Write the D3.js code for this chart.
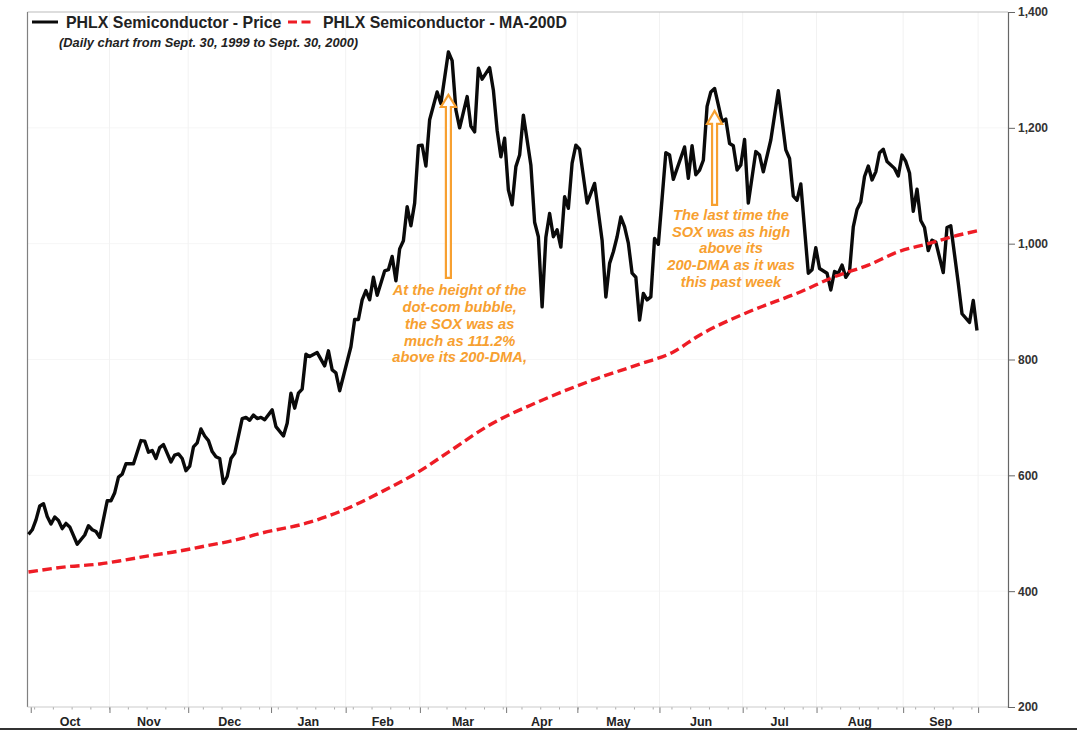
<!DOCTYPE html>
<html>
<head>
<meta charset="utf-8">
<script src="https://d3js.org/d3.v7.min.js"></script>
<style>
html, body { margin: 0; padding: 0; background: #fff; overflow: hidden; }
text { font-family: "Liberation Sans", Arial, sans-serif; font-weight: bold; }
</style>
</head>
<body>
<svg class="chart" width="1077" height="730"></svg>
<script>
// trading days since Sept. 30, 1999
var priceDays = [0,1,2,3,4,5,6,7,8,9,10,11,13,15,16,17,18,19,21,22,23,24,25,26,28,30,31,32,33,34,35,36,38,39,40,41,42,43,44,45,46,47,48,49,50,51,52,53,54,55,57,58,59,60,61,62,63,65,66,68,69,70,71,72,73,74,75,77,79,80,81,82,83,86,87,88,89,90,91,92,93,95,96,97,98,99,100,101,102,103,104,105,106,107,109,110,112,113,114,115,117,118,119,120,121,123,124,125,126,127,128,129,130,131,132,134,135,136,137,138,139,140,141,142,143,144,145,146,147,149,151,153,154,155,156,157,158,159,160,161,162,163,164,165,166,167,168,170,171,172,175,176,177,178,179,180,181,182,183,185,186,187,188,189,190,191,192,194,195,196,198,200,202,203,204,205,206,208,209,210,211,213,214,215,216,217,218,219,220,221,222,223,224,225,226,227,228,229,231,232,233,234,235,236,237,238,239,240,241,242,244,245,246,248,249,251,252,253];
var priceValues = [498,506,523,547,551,529,516,528,522,508,517,511,481,497,513,506,503,493,556,556,570,597,602,620,620,660,659,640,643,629,648,653,623,635,637,629,608,616,649,656,680,668,660,641,632,629,586,598,629,638,698,700,695,704,698,700,696,713,684,668,690,742,716,742,749,809,805,812,789,815,782,777,746,822,869,869,903,919,903,942,911,953,955,978,936,991,1005,1064,1031,1070,1169,1170,1134,1214,1262,1242,1331,1316,1231,1200,1254,1203,1193,1303,1284,1304,1265,1196,1150,1182,1093,1067,1133,1153,1222,1136,1037,1012,891,1011,1052,1012,1024,994,1081,1061,1139,1170,1163,1070,1104,1006,908,966,986,1012,1046,1029,1001,949,942,868,914,903,908,1009,999,1157,1153,1111,1167,1113,1169,1119,1127,1144,1237,1262,1268,1211,1215,1173,1169,1127,1136,1180,1070,1159,1153,1124,1179,1264,1162,1147,1082,1075,1103,949,955,993,957,949,920,952,949,963,942,952,1029,1059,1072,1116,1134,1110,1124,1157,1163,1142,1130,1117,1153,1142,1122,1056,1094,1040,1028,988,1006,1003,950,1028,1031,932,879,864,902,850];

var maDays = [0,10,19,25,32,40,48,55,62,75,84,94,104,112,123,136,152,163,172,179,192,206,215,224,232,240,247,253];
var maValues = [433,442,447,453,461,469,479,488,500,519,540,571,606,640,687,727,768,792,813,842,882,917,943,963,986,1000,1013,1022];

var monthNames = ["Oct","Nov","Dec","Jan","Feb","Mar","Apr","May","Jun","Jul","Aug","Sep"];
var monthStarts = [0.6,21.6,42.6,64.7,84.6,104.4,127.4,146.4,168.3,190.5,210.2,233.3,253.3];
var yTicks = [200,400,600,800,1000,1200,1400];

var legendLabels = ["PHLX Semiconductor - Price", "PHLX Semiconductor - MA-200D"];
var subtitle = "(Daily chart from Sept. 30, 1999 to Sept. 30, 2000)";
var note1 = ["At the height of the","dot-com bubble,","the SOX was as","much as 111.2%","above its 200-DMA,"];
var note2 = ["The last time the","SOX was as high","above its","200-DMA as it was","this past week"];

var svg = d3.select(".chart");
var plot = {left: 27.5, top: 12, right: 1008, bottom: 707};

var xScale = d3.scaleLinear().domain([0, 253]).range([28.5, 977]);
var yScale = d3.scaleLinear().domain([200, 1400]).range([plot.bottom, plot.top]);

// grid
svg.append("g").selectAll("line")
    .data(yTicks.slice(1, -1))
    .enter().append("line")
    .attr("x1", plot.left).attr("x2", plot.right)
    .attr("y1", function (d) { return yScale(d); })
    .attr("y2", function (d) { return yScale(d); })
    .attr("stroke", "#f6f6f6");

svg.append("g").selectAll("line")
    .data(monthStarts.slice(1))
    .enter().append("line")
    .attr("x1", function (d) { return xScale(d); })
    .attr("x2", function (d) { return xScale(d); })
    .attr("y1", plot.top).attr("y2", plot.bottom)
    .attr("stroke", "#f2f2f2");

// frame
svg.append("line").attr("x1", plot.left).attr("x2", plot.right).attr("y1", plot.top).attr("y2", plot.top)
    .attr("stroke", "#bbb").attr("stroke-width", 1);
svg.append("line").attr("x1", plot.left).attr("x2", plot.left).attr("y1", plot.top).attr("y2", plot.bottom)
    .attr("stroke", "#808080").attr("stroke-width", 1.2);
svg.append("rect").attr("x", 0).attr("y", 728).attr("width", 1077).attr("height", 2).attr("fill", "#333");

// x axis: weekly minor ticks, monthly major ticks
var xMinor = d3.axisBottom(xScale).tickValues(d3.range(1.5, 253, 5)).tickSize(2.5).tickFormat("");
var xMinorG = svg.append("g").attr("transform", "translate(0," + plot.bottom + ")").call(xMinor);
xMinorG.selectAll(".tick line").attr("stroke", "#aaa");
xMinorG.select(".domain").remove();

var xMajor = d3.axisBottom(xScale).tickValues(monthStarts).tickSize(6).tickFormat("");
var xMajorG = svg.append("g").attr("transform", "translate(0," + plot.bottom + ")").call(xMajor);
xMajorG.selectAll(".tick line").attr("stroke", "#777");
xMajorG.select(".domain").remove();

svg.append("line").attr("x1", plot.left).attr("x2", plot.right).attr("y1", plot.bottom).attr("y2", plot.bottom)
    .attr("stroke", "#ccc").attr("stroke-width", 1.2);

svg.append("g").selectAll("text")
    .data(monthNames)
    .enter().append("text")
    .attr("x", function (d, i) { return xScale((monthStarts[i] + monthStarts[i + 1]) / 2); })
    .attr("y", 726)
    .attr("text-anchor", "middle")
    .attr("font-size", 12.5)
    .attr("fill", "#222")
    .text(function (d) { return d; });

// y axis on the right
var yAxis = d3.axisRight(yScale).tickValues(yTicks).tickSize(7).tickPadding(3).tickFormat(d3.format(","));
var yG = svg.append("g").attr("transform", "translate(" + plot.right + ",0)").call(yAxis);
yG.select(".domain").attr("stroke", "#666").attr("stroke-width", 1.2);
yG.selectAll(".tick line").attr("stroke", "#666");
yG.selectAll("text").attr("font-size", 12).attr("fill", "#333")
    .style("font-family", "'Liberation Sans', Arial, sans-serif").style("font-weight", "bold");

// series
var maLine = d3.line()
    .curve(d3.curveMonotoneX)
    .x(function (d) { return xScale(d); })
    .y(function (d, i) { return yScale(maValues[i]); });
var priceLine = d3.line()
    .x(function (d) { return xScale(d); })
    .y(function (d, i) { return yScale(priceValues[i]); });

svg.append("path").datum(priceDays)
    .attr("d", priceLine)
    .attr("fill", "none")
    .attr("stroke", "#0a0a0a")
    .attr("stroke-width", 3.4)
    .attr("stroke-linejoin", "round");

svg.append("path").datum(maDays)
    .attr("d", maLine)
    .attr("fill", "none")
    .attr("stroke", "#ee1c25")
    .attr("stroke-width", 3.4)
    .attr("stroke-dasharray", "9.5,4.5");

// legend
svg.append("line").attr("x1", 32).attr("x2", 58).attr("y1", 22).attr("y2", 22)
    .attr("stroke", "#0a0a0a").attr("stroke-width", 3);
svg.append("text").attr("x", 66).attr("y", 27.5).attr("font-size", 15.9).attr("fill", "#222").text(legendLabels[0]);
svg.append("line").attr("x1", 288).attr("x2", 311).attr("y1", 22).attr("y2", 22)
    .attr("stroke", "#ee1c25").attr("stroke-width", 3).attr("stroke-dasharray", "9,4.5");
svg.append("text").attr("x", 323).attr("y", 27.5).attr("font-size", 15.85).attr("fill", "#222").text(legendLabels[1]);
svg.append("text").attr("x", 59).attr("y", 46.5).attr("font-size", 12.85)
    .attr("font-style", "italic").attr("fill", "#222").text(subtitle);

// annotations
var noteColor = "#f7a030";

function drawArrow(day, fromValue, toValue, headValue) {
    var x = xScale(day);
    var arrow = d3.path();
    arrow.moveTo(x - 2.5, yScale(fromValue));
    arrow.lineTo(x - 2.5, yScale(headValue));
    arrow.lineTo(x - 7.5, yScale(headValue));
    arrow.lineTo(x, yScale(toValue));
    arrow.lineTo(x + 7.5, yScale(headValue));
    arrow.lineTo(x + 2.5, yScale(headValue));
    arrow.lineTo(x + 2.5, yScale(fromValue));
    arrow.closePath();
    svg.append("path").attr("d", arrow.toString())
        .attr("fill", "#fff")
        .attr("stroke", noteColor)
        .attr("stroke-width", 2.2);
}

function drawNote(lines, day, value) {
    svg.append("g").selectAll("text")
        .data(lines)
        .enter().append("text")
        .attr("x", xScale(day))
        .attr("y", function (d, i) { return yScale(value) + i * 16.7; })
        .attr("text-anchor", "middle")
        .attr("font-size", 14.7)
        .attr("font-style", "italic")
        .attr("fill", noteColor)
        .text(function (d) { return d; });
}

drawArrow(112, 941, 1257, 1236);
drawArrow(183, 1067, 1229, 1207);
drawNote(note1, 115, 910.6);
drawNote(note2, 187.4, 1041);
</script>
</body>
</html>
